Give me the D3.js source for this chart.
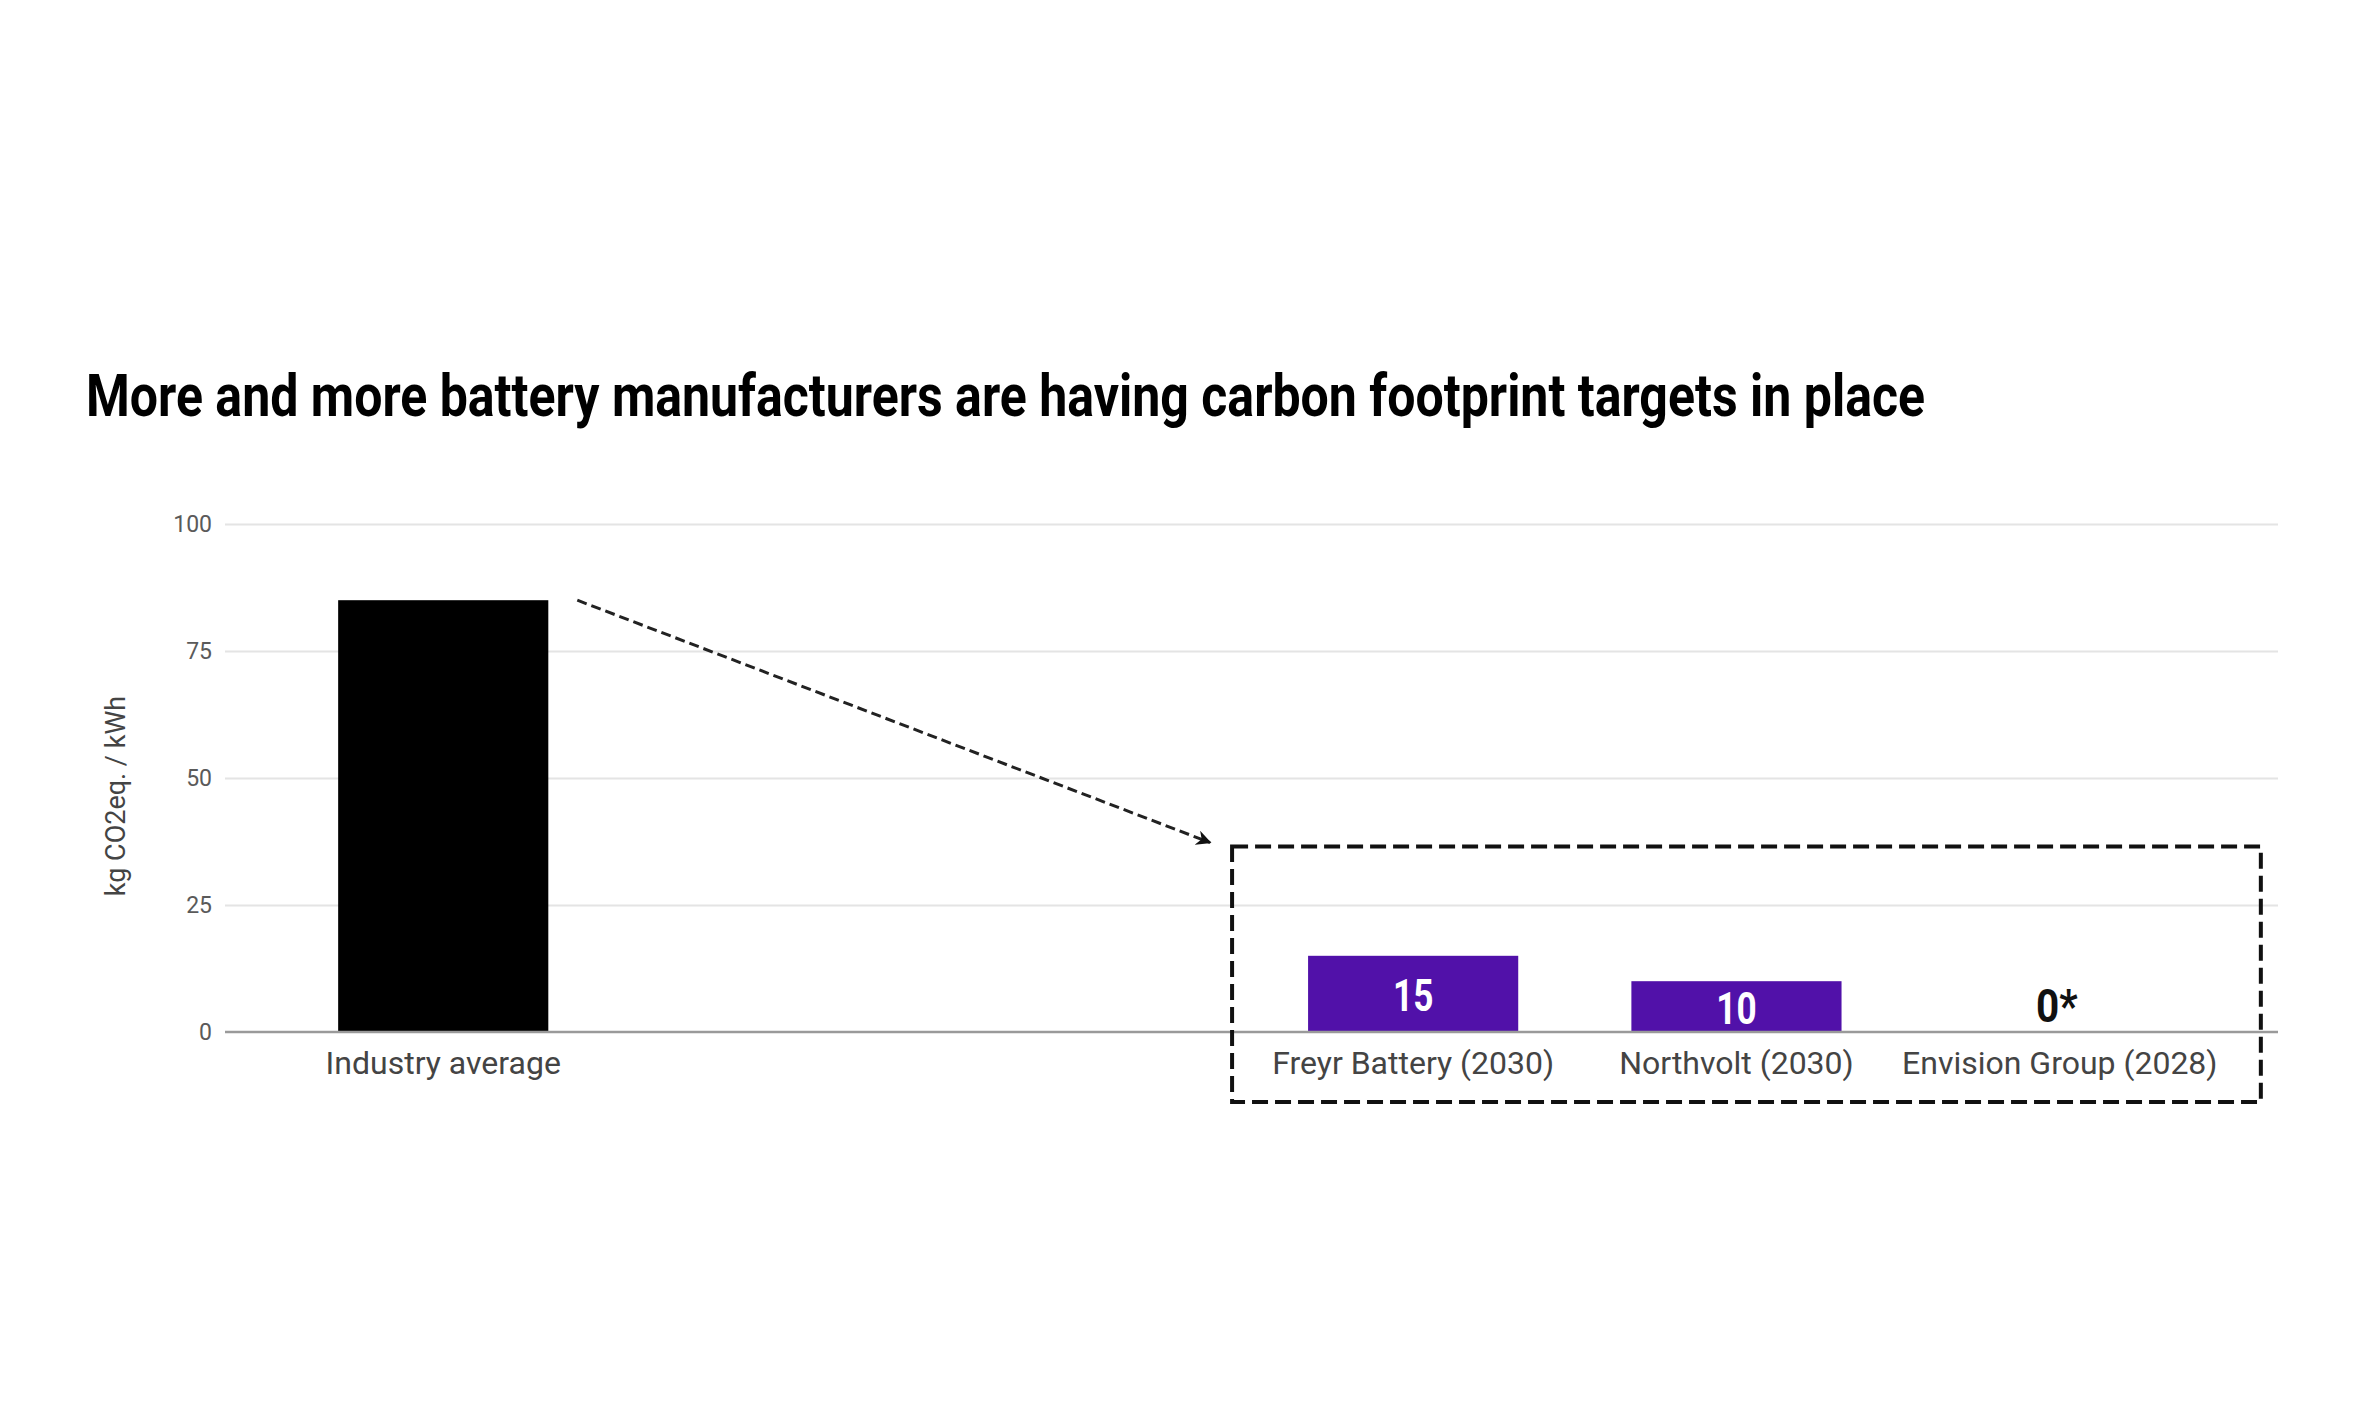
<!DOCTYPE html>
<html>
<head>
<meta charset="utf-8">
<script src="https://cdn.jsdelivr.net/npm/d3@7"></script>
<style>
  html, body { margin: 0; padding: 0; background: #fff; }
  svg { display: block; }
</style>
</head>
<body>
<svg id="chart" width="2362" height="1402"></svg>
<script>
// ---- data ----
const title = "More and more battery manufacturers are having carbon footprint targets in place";
const categories = ["Industry average", "gap1", "gap2", "Freyr Battery (2030)", "Northvolt (2030)", "Envision Group (2028)"];
const barCategories = ["Industry average", "Freyr Battery (2030)", "Northvolt (2030)", "Envision Group (2028)"];
const barValues = [85, 15, 10, 0];
const barLabels = ["", "15", "10", "0*"];
const barColors = ["#000000", "#5111a9", "#5111a9", "#5111a9"];
const yTicks = [0, 25, 50, 75, 100];
const yTitle = "kg CO2eq. / kWh";

// ---- layout ----
const plot = { left: 225, right: 2278, top: 524, bottom: 1032 };

const svg = d3.select("#chart");

const x = d3.scaleBand()
  .domain(categories)
  .range([plot.left, plot.right])
  .paddingInner(0.35)
  .paddingOuter(0.35);

const y = d3.scaleLinear().domain([0, 100]).range([plot.bottom, plot.top]);

// title
svg.append("text")
  .attr("x", 86).attr("y", 416)
  .attr("font-family", "Roboto, 'Noto Sans', sans-serif")
  .attr("font-weight", 700)
  .attr("font-size", 60)
  .attr("fill", "#000")
  .attr("textLength", 1839).attr("lengthAdjust", "spacingAndGlyphs")
  .text(title);

// gridlines + tick labels
const yAxis = d3.axisLeft(y).tickValues(yTicks).tickSize(-(plot.right - plot.left)).tickPadding(13);
const ga = svg.append("g").attr("transform", `translate(${plot.left},0)`).call(yAxis);
ga.select(".domain").remove();
ga.selectAll(".tick line")
  .attr("stroke", "#e4e4e4")
  .attr("stroke-width", 2);
ga.selectAll(".tick text")
  .attr("font-family", "Roboto, sans-serif")
  .attr("font-size", 23)
  .attr("fill", "#5a5a5a");
ga.selectAll(".tick").filter(d => d === 0).select("line").remove();

// y title
svg.append("text")
  .attr("transform", `translate(125, ${(plot.top + plot.bottom) / 2 + 18}) rotate(-90)`)
  .attr("text-anchor", "middle")
  .attr("font-family", "Roboto, sans-serif")
  .attr("font-size", 27)
  .attr("fill", "#444")
  .text(yTitle);

// bars
const bars = barCategories.map((c, i) => ({ c, v: barValues[i], label: barLabels[i], color: barColors[i] }));
svg.append("g").selectAll("rect").data(bars.filter(d => d.v > 0)).join("rect")
  .attr("x", d => x(d.c))
  .attr("width", x.bandwidth())
  .attr("y", d => y(d.v))
  .attr("height", d => y(0) - y(d.v))
  .attr("fill", d => d.color);

// zero axis line
svg.append("line")
  .attr("x1", plot.left).attr("x2", plot.right)
  .attr("y1", y(0)).attr("y2", y(0))
  .attr("stroke", "#9a9a9a").attr("stroke-width", 2.5);

// value labels
const vl = svg.append("g").selectAll("text").data(bars.filter(d => d.label !== "")).join("text")
  .attr("x", d => x(d.c) + x.bandwidth() / 2 + (d.v > 0 ? 0 : -3))
  .attr("y", d => d.v > 0 ? (y(d.v) + y(0)) / 2 + 17 : y(0) - 10)
  .attr("text-anchor", "middle")
  .attr("font-family", "Roboto, sans-serif")
  .attr("font-weight", 700)
  .attr("font-size", d => d.v > 0 ? 44 : 46)
  .attr("fill", d => d.v > 0 ? "#fff" : "#111")
  .text(d => d.label);
vl.each(function(d) {
  const len = this.getComputedTextLength();
  d3.select(this).attr("textLength", len * (d.v > 0 ? 0.8 : 0.88)).attr("lengthAdjust", "spacingAndGlyphs");
});

// x labels
svg.append("g").selectAll("text").data(barCategories).join("text")
  .attr("x", d => x(d) + x.bandwidth() / 2)
  .attr("y", y(0) + 42)
  .attr("text-anchor", "middle")
  .attr("font-family", "Roboto, sans-serif")
  .attr("font-size", 32)
  .attr("fill", "#444")
  .text(d => d);

// annotation box
const boxX0 = x("Freyr Battery (2030)") - 76;
const boxX1 = x("Envision Group (2028)") + x.bandwidth() + 96;
const boxY0 = y(36.5);
const boxY1 = y(0) + 70;
svg.append("rect")
  .attr("x", boxX0).attr("y", boxY0)
  .attr("width", boxX1 - boxX0).attr("height", boxY1 - boxY0)
  .attr("fill", "none")
  .attr("stroke", "#111")
  .attr("stroke-width", 4)
  .attr("stroke-dasharray", "16 7");

// arrow
svg.append("defs").append("marker")
  .attr("id", "arrowhead")
  .attr("viewBox", "0 0 10 10")
  .attr("refX", 9).attr("refY", 5)
  .attr("markerWidth", 5).attr("markerHeight", 5)
  .attr("orient", "auto")
  .append("path")
  .attr("d", "M0,0 L10,5 L0,10 L3,5 Z")
  .attr("fill", "#111");

svg.append("line")
  .attr("x1", x("Industry average") + x.bandwidth() + 29)
  .attr("y1", y(85))
  .attr("x2", boxX0 - 22)
  .attr("y2", boxY0 - 4)
  .attr("stroke", "#222")
  .attr("stroke-width", 3)
  .attr("stroke-dasharray", "10 5")
  .attr("marker-end", "url(#arrowhead)");
</script>
</body>
</html>
